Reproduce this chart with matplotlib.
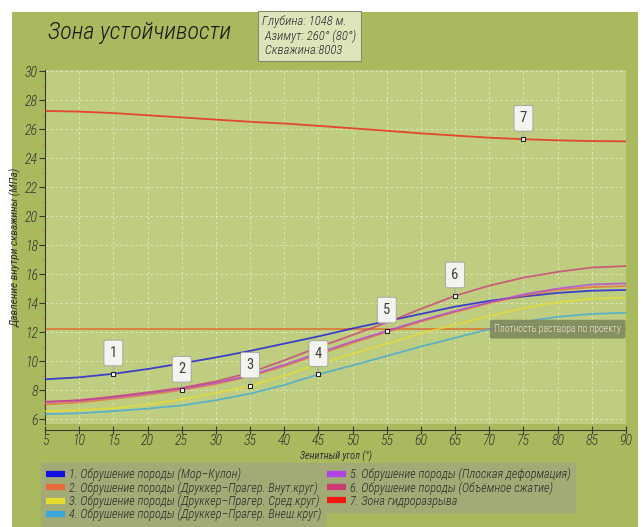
import matplotlib
matplotlib.use("Agg")
import matplotlib.pyplot as plt
from matplotlib.patches import Rectangle
from matplotlib.lines import Line2D
from matplotlib.ticker import MultipleLocator

plt.rcParams['font.family'] = ['Roboto Condensed', 'DejaVu Sans']
plt.rcParams['font.style'] = 'italic'
plt.rcParams['font.weight'] = 300

# зенитный угол, градусы
angles = [5, 10, 15, 20, 25, 30, 35, 40, 45, 50, 55, 60, 65, 70, 75, 80, 85, 90]

# давление, МПа
mohr_coulomb = [8.74, 8.88, 9.12, 9.45, 9.84, 10.25, 10.7, 11.2, 11.7, 12.25, 12.75, 13.25, 13.75, 14.15, 14.45, 14.7, 14.85, 14.9]
dp_inner = [7.01, 7.15, 7.4, 7.68, 8.0, 8.42, 8.95, 9.65, 10.45, 11.25, 12.0, 12.72, 13.38, 14.0, 14.52, 14.9, 15.1, 15.17]
dp_middle = [6.55, 6.62, 6.74, 7.0, 7.36, 7.8, 8.28, 9.0, 9.8, 10.5, 11.2, 11.9, 12.5, 13.1, 13.65, 14.05, 14.3, 14.37]
dp_outer = [6.34, 6.4, 6.55, 6.72, 6.94, 7.3, 7.75, 8.35, 9.08, 9.7, 10.35, 11.0, 11.6, 12.2, 12.7, 13.05, 13.25, 13.33]
plane_strain = [7.17, 7.28, 7.5, 7.78, 8.1, 8.5, 9.0, 9.75, 10.55, 11.35, 12.08, 12.8, 13.45, 14.05, 14.6, 15.0, 15.28, 15.36]
volume_compr = [7.19, 7.3, 7.55, 7.85, 8.15, 8.6, 9.2, 10.05, 10.95, 11.8, 12.65, 13.6, 14.5, 15.2, 15.75, 16.15, 16.45, 16.55]
frac_zone = [27.25, 27.2, 27.1, 26.95, 26.8, 26.65, 26.5, 26.38, 26.22, 26.05, 25.88, 25.7, 25.55, 25.4, 25.3, 25.22, 25.17, 25.15]

design_density = 12.2
marker_angles = [15, 25, 35, 45, 55, 65, 75]

labels = [
    "1. Обрушение породы (Мор–Кулон)",
    "2. Обрушение породы (Друккер–Прагер. Внут.круг)",
    "3. Обрушение породы (Друккер–Прагер. Сред.круг)",
    "4. Обрушение породы (Друккер–Прагер. Внеш.круг)",
    "5. Обрушение породы (Плоская деформация)",
    "6. Обрушение породы (Объёмное сжатие)",
    "7. Зона гидроразрыва",
]
series = [mohr_coulomb, dp_inner, dp_middle, dp_outer, plane_strain, volume_compr, frac_zone]
colors = ['#1010e0', '#e86a3a', '#e8dc30', '#3aa8dc', '#b040e8', '#cc3a78', '#ee1a10']

fig = plt.figure(figsize=(6.43, 5.27), dpi=100)
fig.patch.set_facecolor('white')
fig.patches.append(Rectangle((12 / 643, 0), (638 - 12) / 643, (527 - 12) / 527,
                             transform=fig.transFigure, facecolor='#a9b95d', edgecolor='none', zorder=-10))

ax = fig.add_axes([45 / 643, 1 - 424 / 527, (626 - 45) / 643, (424 - 70) / 527])
ax.set_facecolor('#bfcd80')

# линии
for vals, c in zip(series, colors):
    ax.plot(angles, vals, color=c, lw=1.3, alpha=0.75, zorder=3)
ax.axhline(design_density, color='#e0601c', lw=1.1, alpha=0.85, zorder=2)

# выноски с номерами
for i, (xa, vals) in enumerate(zip(marker_angles, series)):
    ya = vals[angles.index(xa)]
    ax.plot([xa], [ya], marker='s', ms=3.2, mfc='white', mec='#222', mew=0.8, zorder=6)
    ax.annotate(str(i + 1), xy=(xa, ya), xytext=(0, 15), textcoords='offset points',
                ha='center', va='center', fontsize=10.5, color='#404040', fontstyle='normal',
                fontweight='normal',
                bbox=dict(boxstyle='round,pad=0.4,rounding_size=0.15', fc='#f3f3ef', ec='#a0a0a0', lw=0.6),
                arrowprops=dict(arrowstyle='-', color='#b0b0b0', lw=1.0, shrinkA=0, shrinkB=2),
                zorder=7)

ax.text(89.3, design_density, 'Плотность раствора по проекту', ha='right', va='center',
        fontsize=7, color='#eef0e2', fontstyle='normal', zorder=8,
        bbox=dict(boxstyle='round,pad=0.45,rounding_size=0.2', fc='#7e8a5c', ec='none', alpha=0.9))

ax.set_xlim(5, 90)
ax.set_ylim(5.66, 30.07)
ax.xaxis.set_major_locator(MultipleLocator(5))
ax.yaxis.set_major_locator(MultipleLocator(2))
ax.yaxis.set_minor_locator(MultipleLocator(1))
ax.grid(True, which='major', color='#e6ebc6', linestyle=(0, (3, 3)), lw=0.6, alpha=0.9)
ax.set_axisbelow(True)

for s in ['top', 'right']:
    ax.spines[s].set_visible(False)
ax.spines['left'].set_color('#3a3a2a')
ax.spines['bottom'].set_color('#3a3a2a')
ax.spines['bottom'].set_position(('outward', 4))
ax.tick_params(axis='both', which='major', colors='#3a3a2a', labelcolor='#333333', labelsize=10,
               length=4, width=0.8)
ax.tick_params(axis='x', direction='inout', length=6, pad=0)
ax.tick_params(axis='y', which='minor', length=2.5, color='#d88a4a', width=0.8)
ax.tick_params(axis='y', pad=1)

ax.set_ylabel('Давление внутри скважины (МПа)', fontsize=8.2, color='#333333')
ax.yaxis.set_label_coords(-0.041, 0.5)
ax.set_xlabel('Зенитный угол (°)', fontsize=7.2, color='#333333')
ax.xaxis.set_label_coords(0.5, -0.074)

# заголовок и информация
fig.text(48 / 643, 1 - 33 / 527, 'Зона устойчивости', fontsize=17.5, va='center', color='#1a1a1a')
fig.text(262 / 643, 1 - 36 / 527, 'Глубина: 1048 м.\n Азимут: 260° (80°)\n Скважина:8003',
         fontsize=9.2, va='center', color='#2a2a2a', linespacing=1.1,
         bbox=dict(boxstyle='square,pad=0.35', fc='#dfe3ba', ec='#8a8a70', lw=0.8))

# легенда
handles = [Line2D([], [], color=c, lw=4.5, solid_capstyle='butt') for c in colors]
leg_kw = dict(loc='upper left', frameon=True, fancybox=True, facecolor='#a2aa76', edgecolor='#a2aa76',
              framealpha=1, fontsize=8.8, handlelength=1.6, handletextpad=0.25, labelspacing=0.0,
              borderpad=0.4, borderaxespad=0)
leg1 = fig.legend(handles[:4], labels[:4], bbox_to_anchor=(41 / 643, 1 - 463 / 527), **leg_kw)
leg2 = fig.legend(handles[4:], labels[4:], bbox_to_anchor=(322 / 643, 1 - 463 / 527), **leg_kw)
for leg in (leg1, leg2):
    for t in leg.get_texts():
        t.set_color('#2a2a2a')

fig.savefig('out.png', dpi=100)
